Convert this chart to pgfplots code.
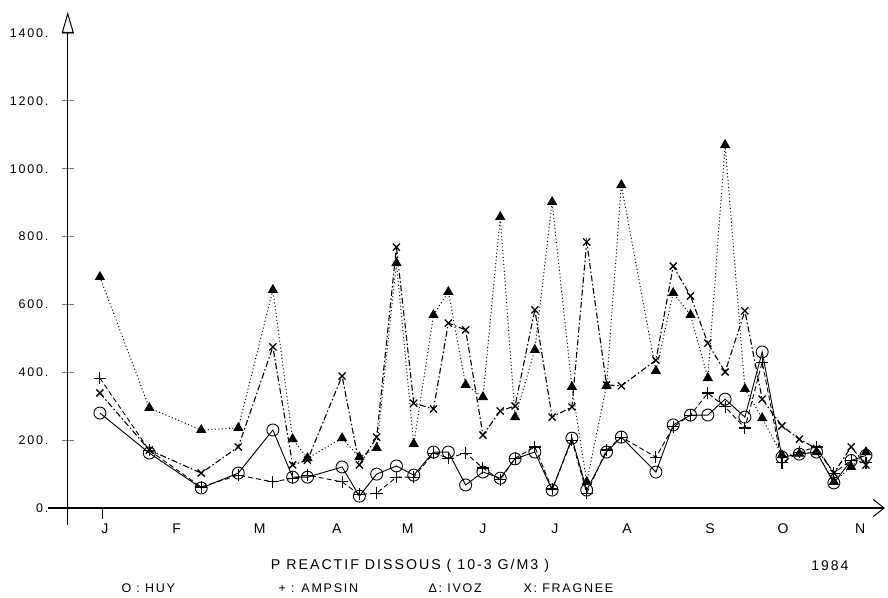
\documentclass[border=0pt]{standalone}
\usepackage{fontspec}
\setmainfont{Liberation Sans}[LetterSpace=14]
\usepackage{pgfplots}
\usepackage{pgfplotstable}
\pgfplotsset{compat=1.18}
\usetikzlibrary{arrows.meta}

% day of year, P reactif dissous (10-3 g/m3)
\pgfplotstableread{
day huy ampsin ivoz fragnee
13  280 383  681 339
33  162 170  295 171
54   59  62  230 103
69  103  97  236 180
83  230  77  643 475
91   91  88  203 127
97   91  97  147 141
111 121  77  206 389
118  35  40  150 127
125 100  44  177 209
133 124  91  722 769
140  97  91  189 309
148 165 162  569 292
154 165 147  637 545
161  68 162  363 525
168 106 118  327 215
175  88  83  858 286
181 145 147  268 301
189 165 180  466 584
196  53  56  902 268
204 206 200  357 298
210  53  44   77 784
218 165 171  360 363
224 209 209  952 360
238 106 150  404 436
245 245 239  634 713
252 274 274  569 625
259 274 339  383 486
266 321 298 1070 401
274 268 236  351 581
281 460 430  265 321
289 150 133  156 242
296 159 165  160 203
303 165 180  165 175
310  74 103   77 103
317 140 141  121 180
323 155 133  165 127
}\pdata

\begin{document}
\begin{tikzpicture}
\useasboundingbox (-48pt,-72pt) rectangle (840pt,525pt);
\begin{axis}[
  scale only axis, width=837pt, height=513pt,
  at={(0pt,0pt)}, anchor=south west,
  xmin=-8, xmax=330.7, ymin=-50, ymax=1462,
  axis x line=middle, axis y line=middle,
  hide obscured x ticks=false, hide obscured y ticks=false,
  x axis line style={line width=1.3pt,-{Straight Barb[length=11pt,width=17pt,line width=1pt]}},
  y axis line style={line width=1.2pt,-{Triangle[open,length=21pt,width=12pt,line width=1pt]}},
  xtick={15,44.1,77.7,108.9,137.6,168,197.1,226.3,259.9,289.4,320.6},
  xticklabels={J,F,M,A,M,J,J,A,S,O,N},
  xtick style={draw=none},
  extra x ticks={14},
  extra x tick labels={},
  extra x tick style={xtick style={draw=black,line width=0.8pt,yshift=-5pt}},
  xticklabel style={font=\fontsize{14}{14}\selectfont, yshift=-6pt},
  ytick={0,200,...,1400},
  yticklabels={0.,200.,400.,600.,800.,1000.,1200.,1400.},
  yticklabel style={font=\fontsize{12.5}{12.5}\selectfont, xshift=-10pt},
  tick align=center, major tick length=12pt,
  ytick style={line width=1pt},
  every axis plot/.append style={black, line width=0.9pt},
]
\addplot[solid, mark=o, mark size=6pt, mark options={solid, line width=0.9pt}]
  table[x=day, y=huy] {\pdata};
\addplot[dash pattern=on 5pt off 3pt, mark=+, mark size=6pt, mark options={solid, line width=1.1pt}]
  table[x=day, y=ampsin] {\pdata};
\addplot[dash pattern=on 1pt off 2.5pt, line width=1pt, mark=triangle*, mark size=5pt, mark options={solid}]
  table[x=day, y=ivoz] {\pdata};
\addplot[dash pattern=on 6pt off 2.5pt on 1.5pt off 2.5pt, line width=1.1pt, mark=x, mark size=5pt, mark options={solid, line width=1.3pt}]
  table[x=day, y=fragnee] {\pdata};
\end{axis}
\node[font=\fontsize{14.2}{14.2}\selectfont] at (362pt,-41pt) {P REACTIF DISSOUS ( 10-3 G/M3 )};
\node[font=\fontsize{14}{14}\selectfont] at (782pt,-41pt) {1984};
\begin{scope}[every node/.style={anchor=west, font=\fontsize{12.5}{12.5}\selectfont}]
\node at (70pt,-63pt) {O : HUY};
\node at (227pt,-63pt) {+ : AMPSIN};
\node at (377pt,-63pt) {Δ: IVOZ};
\node at (472pt,-63pt) {X: FRAGNEE};
\end{scope}
\end{tikzpicture}
\end{document}
